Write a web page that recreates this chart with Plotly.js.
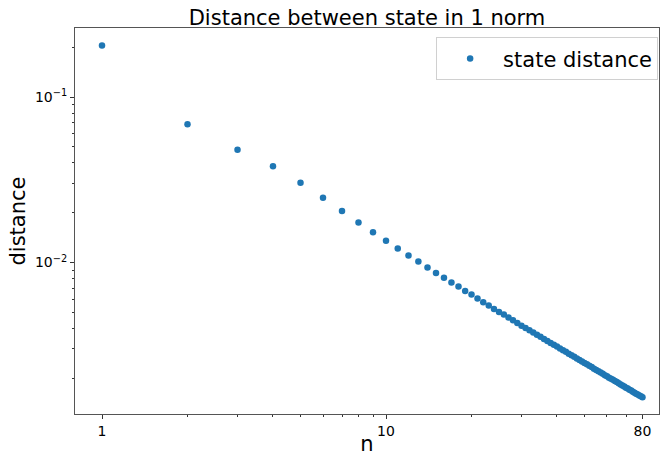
<!DOCTYPE html>
<html>
<head>
<meta charset="utf-8">
<script src="https://cdn.plot.ly/plotly-3.0.1.min.js"></script>
<style>html,body{margin:0;padding:0;background:#fff;} #chart{width:660px;height:456px;}</style>
</head>
<body>
<div id="chart"></div>
<script>
const n = [];
for (let i = 1; i <= 80; i++) n.push(i);

const distance = [
  0.2056, 0.0686, 0.0481, 0.0382, 0.0304, 0.0246, 0.0205, 0.01748, 0.01526, 0.01352,
  0.01216, 0.01103, 0.01014, 0.00933, 0.00865, 0.00809, 0.00756, 0.00715, 0.00673, 0.00640,
  0.00605, 0.00575, 0.00549, 0.00523, 0.00502, 0.00484, 0.00464, 0.00447, 0.00430, 0.00415,
  0.00402, 0.00389, 0.00377, 0.00366, 0.00355, 0.00345, 0.00335, 0.00326, 0.00318, 0.00310,
  0.00302, 0.00295, 0.00288, 0.00281, 0.00275, 0.00269, 0.00263, 0.00257, 0.00252, 0.00247,
  0.00242, 0.00237, 0.00233, 0.00228, 0.00224, 0.00220, 0.00216, 0.00212, 0.00208, 0.00205,
  0.00201, 0.00198, 0.00195, 0.00192, 0.00189, 0.00186, 0.00183, 0.00180, 0.00178, 0.00175,
  0.00173, 0.00170, 0.00168, 0.00165, 0.00163, 0.00161, 0.00159, 0.00157, 0.00155, 0.00153
];

const xTickVals = [1, 10, 80];
const xTickText = ['1', '10', '80'];
const xMinorVals = [2, 3, 4, 5, 6, 7, 8, 9, 20, 30, 40, 50, 60, 70];
const yTickVals = [0.1, 0.01];
const yTickText = ['10<sup>\u22121</sup>', '10<sup>\u22122</sup>'];
const yMinorVals = [0.002, 0.003, 0.004, 0.005, 0.006, 0.007, 0.008, 0.009,
                    0.02, 0.03, 0.04, 0.05, 0.06, 0.07, 0.08, 0.09, 0.2];

const FONT = 'DejaVu Sans, sans-serif';

const trace = {
  x: n, y: distance, type: 'scatter', mode: 'markers', name: 'state distance',
  marker: {color: '#1f77b4', size: 6.5}
};

const layout = {
  width: 660, height: 456,
  paper_bgcolor: '#fff', plot_bgcolor: '#fff',
  margin: {l: 75, r: 1, t: 28, b: 42},
  font: {family: FONT, color: '#000'},
  title: {text: 'Distance between state in 1 norm', font: {size: 21, family: FONT, color: '#000'},
          x: 0.5, xref: 'paper', xanchor: 'center', y: 1, yref: 'paper', yanchor: 'bottom', pad: {b: 3}},
  showlegend: true,
  legend: {x: 0.9985, xanchor: 'right', y: 0.976, yanchor: 'top',
           bgcolor: 'rgba(255,255,255,0.8)', bordercolor: '#d0d0d0', borderwidth: 1,
           font: {size: 21, family: FONT, color: '#000'}, itemwidth: 56},
  xaxis: {
    type: 'log', range: [-0.0951, 1.9613], autorange: false,
    showgrid: false, zeroline: false,
    showline: true, linecolor: '#555', linewidth: 1, mirror: true,
    ticks: 'outside', ticklen: 4, tickwidth: 1, tickcolor: '#333',
    tickmode: 'array', tickvals: xTickVals, ticktext: xTickText,
    tickfont: {size: 14, family: FONT, color: '#000'},
    minor: {tickmode: 'array', tickvals: xMinorVals, ticks: 'outside', ticklen: 2, tickcolor: '#333', showgrid: false},
    title: {text: 'n', font: {size: 21, family: FONT, color: '#000'}, standoff: 6}
  },
  yaxis: {
    type: 'log', range: [-2.9164, -0.5818], autorange: false,
    showgrid: false, zeroline: false,
    showline: true, linecolor: '#555', linewidth: 1, mirror: true,
    ticks: 'outside', ticklen: 4, tickwidth: 1, tickcolor: '#333',
    tickmode: 'array', tickvals: yTickVals, ticktext: yTickText,
    tickfont: {size: 14, family: FONT, color: '#000'},
    minor: {tickmode: 'array', tickvals: yMinorVals, ticks: 'outside', ticklen: 2, tickcolor: '#333', showgrid: false},
    title: {text: 'distance', font: {size: 21, family: FONT, color: '#000'}, standoff: 3}
  }
};

Plotly.newPlot('chart', [trace], layout, {displayModeBar: false, staticPlot: true});
</script>
</body>
</html>
